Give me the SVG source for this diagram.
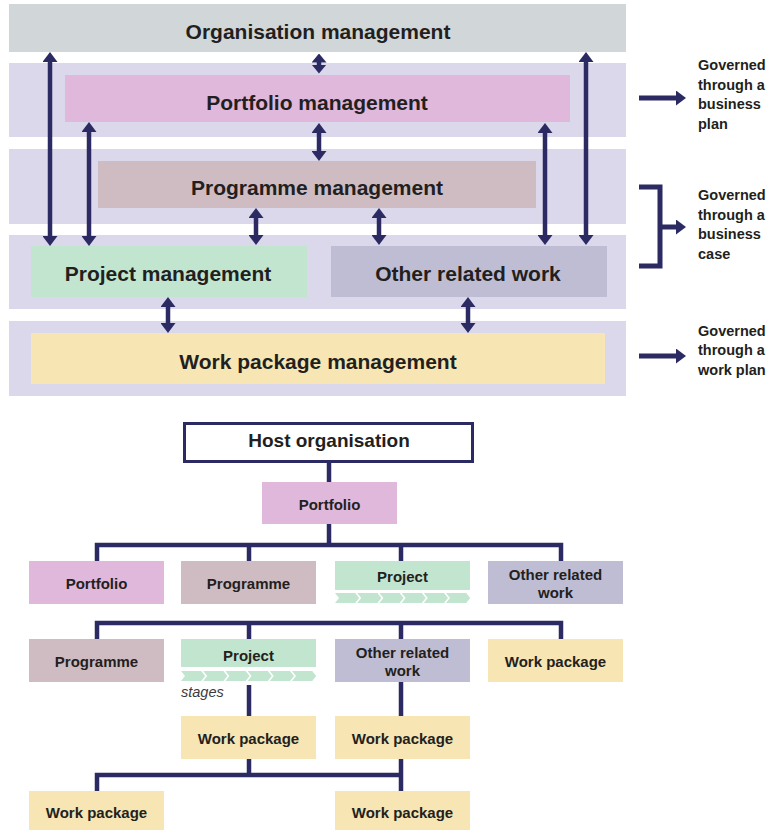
<svg xmlns="http://www.w3.org/2000/svg" xmlns:xlink="http://www.w3.org/1999/xlink" width="771" height="830" viewBox="0 0 771 830">
<style>
text{font-family:"Liberation Sans",Arial,sans-serif;font-weight:bold;fill:#231f20}
.t21{font-size:21px;text-anchor:middle}
.t19{font-size:19px;text-anchor:middle}
.t15{font-size:15px;text-anchor:middle}
.gov{font-size:14.5px}
.it{font-size:14.5px;font-style:italic;font-weight:normal;fill:#3a3a3a}
.band{fill:#dcd8eb}
.org{fill:#d1d6d8}
.pf{fill:#dfb8dc}
.pg{fill:#cfbcc3}
.pj{fill:#c2e5d0}
.ot{fill:#bfbdd3}
.wp{fill:#f7e6b4}
.arr{stroke:#2b2a63;stroke-width:4.5;fill:none;marker-start:url(#ah);marker-end:url(#ah)}
.arr1{stroke:#2b2a63;stroke-width:5;fill:none;marker-end:url(#ah)}
.ln{stroke:#2b2a63;stroke-width:4.5;fill:none;stroke-linejoin:miter}
</style>
<defs>
<marker id="ah" markerUnits="userSpaceOnUse" markerWidth="10" markerHeight="15" refX="2" refY="7.5" orient="auto-start-reverse" viewBox="0 0 10 15">
<path d="M0,0 L10,7.5 L0,15 z" fill="#2b2a63"/>
</marker>
<marker id="ahs" markerUnits="userSpaceOnUse" markerWidth="9" markerHeight="15" refX="1" refY="7.5" orient="auto-start-reverse" viewBox="0 0 9 15">
<path d="M0,0 L9,7.5 L0,15 z" fill="#2b2a63"/>
</marker>
<polygon id="chev" points="0,0 20.2,0 24.2,5 20.2,10 0,10 4,5" fill="#c2e5d0"/>
</defs>

<!-- Top section -->
<g id="organisation">
<rect class="org" x="9" y="4" width="617" height="48"/>
<text class="t21" x="318" y="39">Organisation management</text>
</g>
<g id="band-portfolio"><rect class="band" x="9" y="63" width="617" height="74"/></g>
<g id="band-programme"><rect class="band" x="9" y="149" width="617" height="75"/></g>
<g id="band-project"><rect class="band" x="9" y="235" width="617" height="74"/></g>
<g id="band-workpackage"><rect class="band" x="9" y="321" width="617" height="75"/></g>
<g id="portfolio-mgmt">
<rect class="pf" x="65" y="75" width="505" height="47"/>
<text class="t21" x="317" y="110">Portfolio management</text>
</g>
<g id="programme-mgmt">
<rect class="pg" x="98" y="161" width="438" height="47"/>
<text class="t21" x="317" y="195">Programme management</text>
</g>
<g id="project-mgmt">
<rect class="pj" x="31" y="246" width="276" height="51"/>
<text class="t21" x="168" y="281">Project management</text>
</g>
<g id="other-work">
<rect class="ot" x="331" y="246" width="276" height="51"/>
<text class="t21" x="468" y="281">Other related work</text>
</g>
<g id="workpackage-mgmt">
<rect class="wp" x="31" y="333" width="574" height="51"/>
<text class="t21" x="318" y="369">Work package management</text>
</g>

<g id="governance-plan">
<text class="gov" x="698" y="70">Governed</text>
<text class="gov" x="698" y="89.5">through a</text>
<text class="gov" x="698" y="109">business</text>
<text class="gov" x="698" y="128.5">plan</text>
</g>
<g id="governance-case">
<text class="gov" x="698" y="200">Governed</text>
<text class="gov" x="698" y="219.5">through a</text>
<text class="gov" x="698" y="239">business</text>
<text class="gov" x="698" y="258.5">case</text>
</g>
<g id="governance-work">
<text class="gov" x="698" y="335.5">Governed</text>
<text class="gov" x="698" y="355">through a</text>
<text class="gov" x="698" y="374.5">work plan</text>
</g>

<g id="connectors-top">
<path class="arr" d="M50,60 V238"/>
<path class="arr" d="M89,130 V238"/>
<path d="M319,61.5 V65.5" stroke="#2b2a63" stroke-width="4.5" fill="none" marker-start="url(#ahs)" marker-end="url(#ahs)"/>
<path class="arr" d="M319,131 V153"/>
<path class="arr" d="M256,216 V237"/>
<path class="arr" d="M379,216 V237"/>
<path class="arr" d="M545,131 V237"/>
<path class="arr" d="M586,60 V237"/>
<path class="arr" d="M168,305 V325"/>
<path class="arr" d="M468,305 V325"/>
<path class="arr1" d="M639,98 H678"/>
<path class="ln" d="M639,187 H660 V266 H639" style="stroke-width:5"/>
<path class="arr1" d="M660,227 H678"/>
<path class="arr1" d="M639,356 H678"/>
</g>

<!-- Bottom section -->
<g id="connectors-bottom">
<path class="ln" d="M329,462 V482"/>
<path class="ln" d="M329,524 V545"/>
<path class="ln" d="M97,561 V545 H561 V561 M249,545 V561 M401,545 V561"/>
<path class="ln" d="M97,639 V623 H561 V639 M249,623 V639 M401,623 V639"/>
<path class="ln" d="M249,685 V716"/>
<path class="ln" d="M401,682 V716 M401,759 V791"/>
<path class="ln" d="M249,759 V775 M97,791 V775 H401"/>
</g>

<g id="host">
<rect x="184.5" y="423.5" width="288" height="38" fill="#fff" stroke="#2b2a63" stroke-width="3"/>
<text class="t19" x="329" y="447">Host organisation</text>
</g>
<g id="portfolio-top">
<rect class="pf" x="262" y="482" width="135" height="42"/>
<text class="t15" x="329.5" y="510">Portfolio</text>
</g>
<g id="r1-portfolio">
<rect class="pf" x="29" y="561" width="135" height="43"/>
<text class="t15" x="96.5" y="589">Portfolio</text>
</g>
<g id="r1-programme">
<rect class="pg" x="181" y="561" width="135" height="43"/>
<text class="t15" x="248.5" y="589">Programme</text>
</g>
<g id="r1-project">
<rect class="pj" x="335" y="561" width="135" height="29"/>
<text class="t15" x="402.5" y="582">Project</text>
<use xlink:href="#chev" x="335" y="593"/>
<use xlink:href="#chev" x="357.2" y="593"/>
<use xlink:href="#chev" x="379.4" y="593"/>
<use xlink:href="#chev" x="401.6" y="593"/>
<use xlink:href="#chev" x="423.8" y="593"/>
<use xlink:href="#chev" x="446" y="593"/>
</g>
<g id="r1-other">
<rect class="ot" x="488" y="561" width="135" height="43"/>
<text class="t15" x="555.5" y="580">Other related</text>
<text class="t15" x="555.5" y="598">work</text>
</g>
<g id="r2-programme">
<rect class="pg" x="29" y="639" width="135" height="43"/>
<text class="t15" x="96.5" y="667">Programme</text>
</g>
<g id="r2-project">
<rect class="pj" x="181" y="639" width="135" height="28"/>
<text class="t15" x="248.5" y="661">Project</text>
<use xlink:href="#chev" x="181" y="671"/>
<use xlink:href="#chev" x="203.2" y="671"/>
<use xlink:href="#chev" x="225.4" y="671"/>
<use xlink:href="#chev" x="247.6" y="671"/>
<use xlink:href="#chev" x="269.8" y="671"/>
<use xlink:href="#chev" x="292" y="671"/>
<text class="it" x="181" y="697">stages</text>
</g>
<g id="r2-other">
<rect class="ot" x="335" y="639" width="135" height="43"/>
<text class="t15" x="402.5" y="658">Other related</text>
<text class="t15" x="402.5" y="676">work</text>
</g>
<g id="r2-workpackage">
<rect class="wp" x="488" y="639" width="135" height="43"/>
<text class="t15" x="555.5" y="667">Work package</text>
</g>
<g id="r3-workpackage-1">
<rect class="wp" x="181" y="716" width="135" height="43"/>
<text class="t15" x="248.5" y="744">Work package</text>
</g>
<g id="r3-workpackage-2">
<rect class="wp" x="335" y="716" width="135" height="43"/>
<text class="t15" x="402.5" y="744">Work package</text>
</g>
<g id="r4-workpackage-1">
<rect class="wp" x="29" y="791" width="135" height="43"/>
<text class="t15" x="96.5" y="818">Work package</text>
</g>
<g id="r4-workpackage-2">
<rect class="wp" x="335" y="791" width="135" height="43"/>
<text class="t15" x="402.5" y="818">Work package</text>
</g>
</svg>
